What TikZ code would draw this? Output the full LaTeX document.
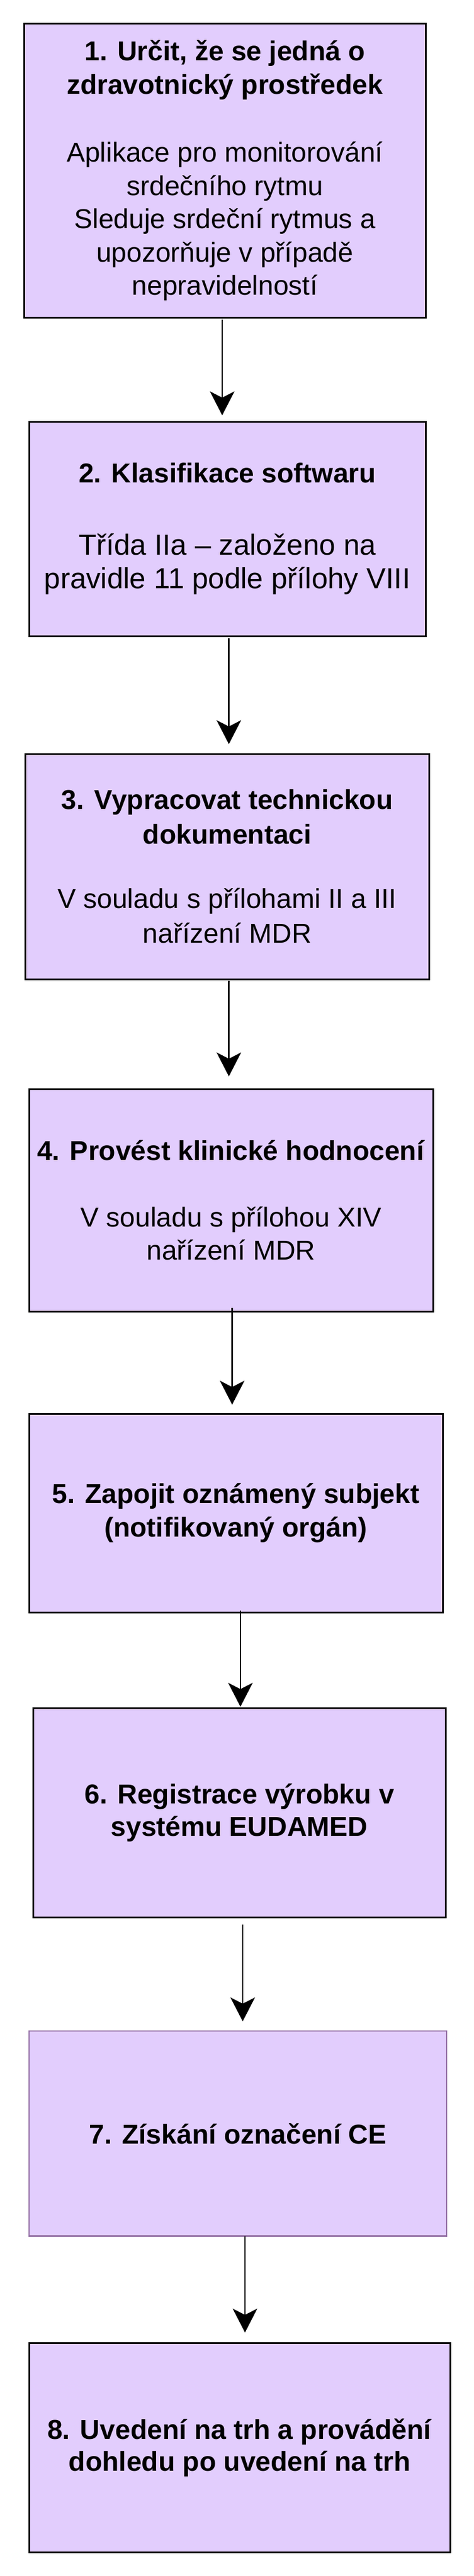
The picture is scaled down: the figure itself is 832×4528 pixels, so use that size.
\documentclass[tikz,border=0pt]{standalone}
\usepackage{fontspec}
\setmainfont{Liberation Sans}
\usetikzlibrary{arrows.meta}
\definecolor{boxfill}{RGB}{226,205,253}
\definecolor{edgeseven}{RGB}{150,115,166}
\begin{document}
\begin{tikzpicture}[x=1pt,y=-1pt,
  stepbox/.style={draw=black, line width=3pt, fill=boxfill, rectangle,
    inner sep=0pt, outer sep=0pt, align=center, text=black},
  fnt/.style={font=\fontsize{48pt}{#1}\selectfont},
  arr/.style={draw=black, line width=2.6pt,
    -{Stealth[length=42pt,width=43pt,inset=11pt]}}]
\useasboundingbox[fill=white] (0,0) rectangle (832,4528);

\node[stepbox, fnt=58.5pt, minimum width=704.6pt, minimum height=516.6pt] (b1) at (394.7,299.7)
  {\textbf{1. Určit, že se jedná o}\\\textbf{zdravotnický prostředek}\\[61pt]Aplikace pro monitorování\\srdečního rytmu\\Sleduje srdeční rytmus a\\upozorňuje v případě\\nepravidelností};

\node[stepbox, font=\fontsize{51pt}{59pt}\selectfont, minimum width=696pt, minimum height=377pt] (b2) at (399,929.5)
  {{\fontsize{48pt}{59pt}\selectfont\textbf{2. Klasifikace softwaru}}\\[68pt]Třída IIa – založeno na\\pravidle 11 podle přílohy VIII};

\node[stepbox, fnt=61pt, minimum width=709.5pt, minimum height=396pt] (b3) at (398.75,1523)
  {\textbf{3. Vypracovat technickou}\\\textbf{dokumentaci}\\[52pt]V souladu s přílohami II a III\\nařízení MDR};

\node[stepbox, fnt=58.6pt, minimum width=709pt, minimum height=391.7pt] (b4) at (405.5,2109.85)
  {\textbf{4. Provést klinické hodnocení}\\[58pt]V souladu s přílohou XIV\\nařízení MDR};

\node[stepbox, fnt=58.5pt, minimum width=726pt, minimum height=349pt] (b5) at (414,2659.5)
  {\textbf{5. Zapojit oznámený subjekt}\\\textbf{(notifikovaný orgán)}};

\node[stepbox, fnt=57pt, minimum width=724.6pt, minimum height=368pt] (b6) at (420.3,3186)
  {\textbf{6. Registrace výrobku v}\\\textbf{systému EUDAMED}};

\node[stepbox, draw=edgeseven, line width=2.5pt, fnt=57pt, minimum width=733pt, minimum height=360.6pt] (b7) at (417.5,3750.3)
  {\textbf{7. Získání označení CE}};

\node[stepbox, fnt=56pt, minimum width=739.6pt, minimum height=368.6pt] (b8) at (420.8,4302.3)
  {\textbf{8. Uvedení na trh a provádění}\\\textbf{dohledu po uvedení na trh}};

\draw[arr] ([xshift=-4.7pt,yshift=-4pt]b1.south) -- ([xshift=-9pt,yshift=11pt]b2.north);
\draw[arr] ([xshift=2.7pt,yshift=-4pt]b2.south) -- ([xshift=2.95pt,yshift=17pt]b3.north);
\draw[arr] ([xshift=2.95pt,yshift=-3pt]b3.south) -- ([xshift=-3.8pt,yshift=22pt]b4.north);
\draw[arr] ([xshift=2pt,yshift=6.7pt]b4.south) -- ([xshift=-6.5pt,yshift=16pt]b5.north);
\draw[arr] ([xshift=8pt,yshift=3pt]b5.south) -- ([xshift=1.7pt,yshift=2pt]b6.north);
\draw[arr] ([xshift=5.7pt,yshift=-13pt]b6.south) -- ([xshift=8.5pt,yshift=17pt]b7.north);
\draw[arr] ([xshift=12.5pt,yshift=0pt]b7.south) -- ([xshift=9.2pt,yshift=18pt]b8.north);
\end{tikzpicture}
\end{document}
